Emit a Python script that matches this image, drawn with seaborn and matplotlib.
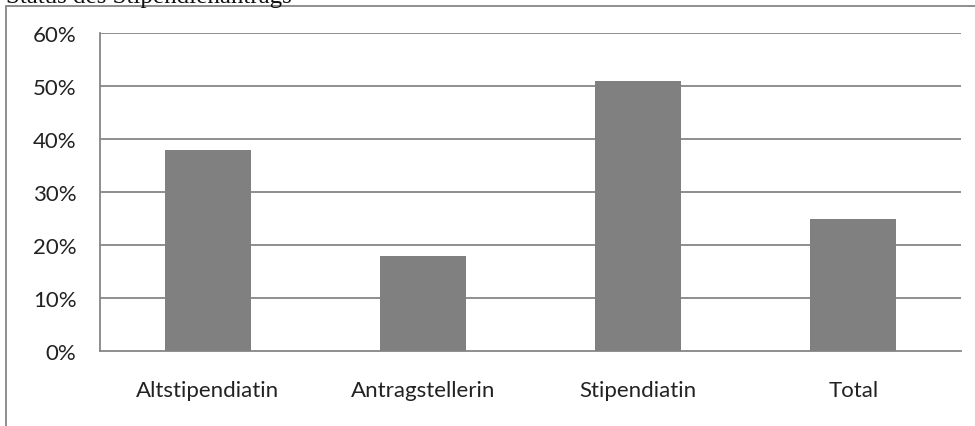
import matplotlib
matplotlib.use("Agg")
import matplotlib.pyplot as plt
import seaborn as sns
import pandas as pd
from matplotlib.patches import Rectangle
from matplotlib.ticker import PercentFormatter, FixedLocator

# Data
categories = ['Altstipendiatin', 'Antragstellerin', 'Stipendiatin', 'Total']
shares = [38, 18, 51, 25]
yticks = [0, 10, 20, 30, 40, 50, 60]
title = 'Status des Stipendienantrags'

GRAY = '#868686'
BAR = '#808080'

sns.set_theme(style='white')
plt.rcParams['font.family'] = ['Lato', 'DejaVu Sans']

df = pd.DataFrame({'status': categories, 'share': shares})

fig = plt.figure(figsize=(9.75, 4.27), dpi=100)
ax = fig.add_axes([100 / 975, 1 - 352 / 427, 861 / 975, 318 / 427])

sns.barplot(data=df, x='status', y='share', color=BAR, width=0.4,
            saturation=1, linewidth=0, edgecolor='none', ax=ax, zorder=3)

ax.set_ylim(0, 60)
ax.set_xlim(-0.5, len(categories) - 0.5)
ax.set_yticks(yticks)
ax.yaxis.set_major_formatter(PercentFormatter(decimals=0))
ax.set_xlabel('')
ax.set_ylabel('')

# gridlines at each 10%
for v in yticks[1:]:
    ax.axhline(v, color=GRAY, lw=1.3, zorder=1)

for side in ['top', 'right']:
    ax.spines[side].set_visible(False)
for side in ['left', 'bottom']:
    ax.spines[side].set_color(GRAY)
    ax.spines[side].set_linewidth(1.3)

# x ticks at category boundaries, labels centred
ax.xaxis.set_major_locator(FixedLocator(range(len(categories))))
ax.set_xticklabels(categories)
ax.xaxis.set_minor_locator(FixedLocator([i - 0.5 for i in range(len(categories) + 1)]))
ax.tick_params(axis='x', which='major', length=0, pad=21, labelsize=16, labelcolor='#222222')
ax.tick_params(axis='x', which='minor', length=6, width=1.3, color=GRAY, direction='out')
ax.tick_params(axis='y', length=7, width=1.3, color=GRAY, direction='out',
               pad=10, labelsize=16, labelcolor='#222222')

# outer chart frame, partly running off the image
frame = Rectangle((6 / 975, -0.2), 1.2, 1 - 7 / 427 + 0.2, transform=fig.transFigure,
                  fill=False, edgecolor=GRAY, lw=1.3, clip_on=False)
fig.patches.append(frame)

# clipped title at the very top
fig.text(6 / 975, 1 - 3 / 427, title, family=['Liberation Serif', 'DejaVu Serif'],
         fontsize=18, ha='left', va='baseline', color='#111111')

fig.savefig('out.png', dpi=100)
